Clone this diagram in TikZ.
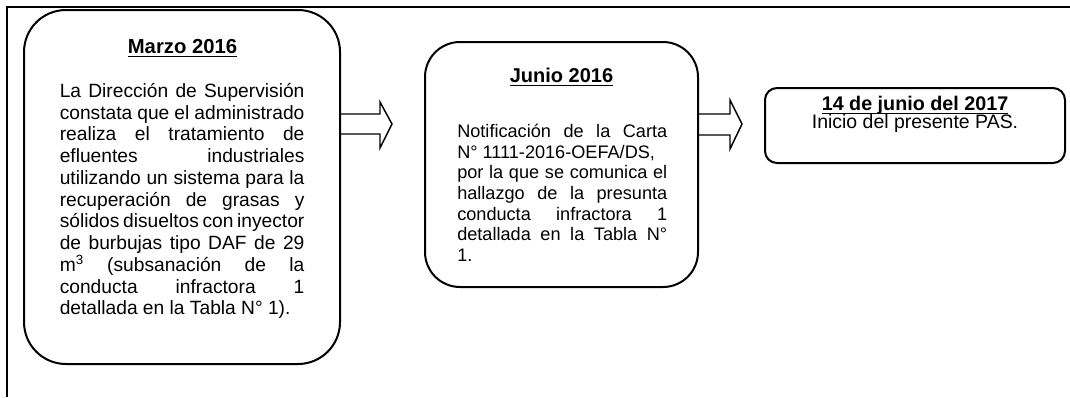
\documentclass[tikz,border=0pt]{standalone}
\usepackage{fontspec}
\setmainfont{Liberation Sans}
\begin{document}
\begin{tikzpicture}[x=0.75pt,y=-0.75pt,
  frameline/.style={line width=0.8pt},
  evbox/.style={draw, line width=1.5pt, inner sep=0pt},
  blockarrow/.style={line width=1.1pt, line join=miter},
  hdr/.style={inner sep=0pt, anchor=base},
  body/.style={inner sep=0pt, anchor=north west, align=left}]
\useasboundingbox (0,0) rectangle (1070,397);
\newcommand\jl[2]{\makebox[#1][s]{#2}}
\newcommand\ulx[1]{\setbox0\hbox{#1}\rlap{\rule[-3.3pt]{\wd0}{1.1pt}}\box0}
% outer frame (left and top lines)
\coordinate (fbl) at (7,397);
\coordinate (ftl) at (7,7);
\coordinate (ftr) at (1070,7);
\draw[frameline] (fbl) -- (ftl) -- (ftr);
% boxes
\node[evbox, rounded corners=42*0.75pt, minimum width=316*0.75pt, minimum height=354*0.75pt] (b1) at (182,187) {};
\node[evbox, rounded corners=35*0.75pt, minimum width=273*0.75pt, minimum height=245*0.75pt] (b2) at (561.5,164.5) {};
\node[evbox, rounded corners=12*0.75pt, minimum width=300*0.75pt, minimum height=75*0.75pt] (b3) at (915,125.5) {};
% box 1 text
\node[hdr, font=\fontsize{15.2pt}{17pt}\selectfont\bfseries] (h1) at (182.5,53) {\ulx{Marzo 2016}};
\node[body, font=\fontsize{14.4pt}{16.3pt}\selectfont] (t1) at (59.5,83) {%
\jl{183.5pt}{La Dirección de Supervisión}\\
\jl{183.5pt}{constata que el administrado}\\
\jl{183.5pt}{realiza el tratamiento de}\\
\jl{183.5pt}{efluentes industriales}\\
\jl{183.5pt}{utilizando un sistema para la}\\
\jl{183.5pt}{recuperación de grasas y}\\
\jl{183.5pt}{sólidos disueltos con inyector}\\
\jl{183.5pt}{de burbujas tipo DAF de 29}\\
\jl{183.5pt}{m\textsuperscript{3} (subsanación de la}\\
\jl{183.5pt}{conducta infractora 1}\\
detallada en la Tabla N° 1).};
% box 2 text
\node[hdr, font=\fontsize{15pt}{17pt}\selectfont\bfseries] (h2) at (561.5,82) {\ulx{Junio 2016}};
\node[body, font=\fontsize{13.6pt}{15.5pt}\selectfont] (t2) at (457,124) {%
\jl{157.5pt}{Notificación de la Carta}\\
N° 1111-2016-OEFA/DS,\\
\jl{157.5pt}{por la que se comunica el}\\
\jl{157.5pt}{hallazgo de la presunta}\\
\jl{157.5pt}{conducta infractora 1}\\
\jl{157.5pt}{detallada en la Tabla N°}\\
1.};
% box 3 text
\node[hdr, font=\fontsize{14.8pt}{17pt}\selectfont\bfseries] (h3) at (915,110) {\ulx{14 de junio del 2017}};
\node[hdr, font=\fontsize{14.6pt}{17pt}\selectfont] (t3) at (915,128.5) {Inicio del presente PAS.};
% block arrows
\draw[blockarrow] (b1.east |- 0,114) -- (380,114) -- (380,102) -- (392,124) -- (380,148) -- (380,134) -- (b1.east |- 0,134);
\draw[blockarrow] (b2.east |- 0,114) -- (730,114) -- (730,100) -- (742,124) -- (730,149) -- (730,135) -- (b2.east |- 0,135);
\end{tikzpicture}
\end{document}
